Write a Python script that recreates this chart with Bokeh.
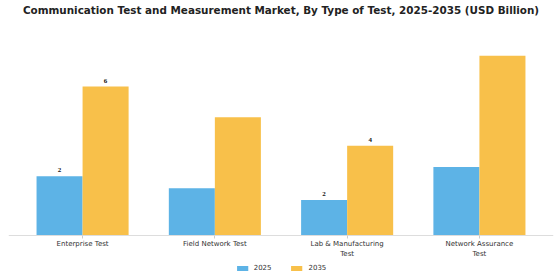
from bokeh.plotting import figure
from bokeh.models import ColumnDataSource, FactorRange, Range1d, LabelSet, Legend, LegendItem
from bokeh.transform import dodge
from bokeh.embed import file_html
from bokeh.resources import INLINE

categories = ["Enterprise Test", "Field Network Test", "Lab & Manufacturing\nTest", "Network Assurance\nTest"]
v2025 = [2.5, 2.0, 1.5, 2.9]
v2035 = [6.3, 5.0, 3.8, 7.6]
labelled = [True, False, True, False]

BLUE = "#5DB3E6"
ORANGE = "#F8C04A"

src = ColumnDataSource(dict(cat=categories, a=v2025, b=v2035))

lab_a = dict(cat=[], y=[], t=[])
lab_b = dict(cat=[], y=[], t=[])
for c, a, b, s in zip(categories, v2025, v2035, labelled):
    if s:
        lab_a["cat"].append(c); lab_a["y"].append(a); lab_a["t"].append(str(round(a)))
        lab_b["cat"].append(c); lab_b["y"].append(b); lab_b["t"].append(str(round(b)))

p = figure(width=560, height=280, x_range=FactorRange(*categories, range_padding=0.03),
           y_range=Range1d(-1.903, 9.26), output_backend="svg", toolbar_location=None,
           title="Communication Test and Measurement Market, By Type of Test, 2025-2035 (USD Billion)")
p.title.align = "center"
p.title.text_font = "DejaVu Sans"
p.title.text_font_size = "10.4px"
p.title.text_font_style = "bold"
p.title.text_color = "#222222"
p.title.standoff = 2

w = 0.348
r1 = p.vbar(x=dodge("cat", -w / 2, range=p.x_range), top="a", width=w, source=src,
            fill_color=BLUE, line_color=None)
r2 = p.vbar(x=dodge("cat", w / 2, range=p.x_range), top="b", width=w, source=src,
            fill_color=ORANGE, line_color=None)

for d, off in ((lab_a, -w / 2), (lab_b, w / 2)):
    ls = LabelSet(x=dodge("cat", off, range=p.x_range), y="y", text="t",
                  source=ColumnDataSource(d), text_align="center", text_baseline="bottom",
                  y_offset=4, text_font="DejaVu Sans", text_font_size="7px",
                  text_font_style="bold", text_color="#111111")
    p.add_layout(ls)

p.yaxis.visible = False
p.xgrid.grid_line_color = None
p.ygrid.grid_line_color = None
p.outline_line_color = None
p.xaxis.fixed_location = 0
p.xaxis.axis_line_color = "#DDDDDD"
p.xaxis.major_tick_line_color = "#CCCCCC"
p.xaxis.major_tick_in = 0
p.xaxis.major_tick_out = 3
p.xaxis.major_label_text_font = "DejaVu Sans"
p.xaxis.major_label_text_font_size = "7px"
p.xaxis.major_label_text_color = "#333333"
p.xaxis.major_label_standoff = 2

legend = Legend(items=[LegendItem(label="2025", renderers=[r1]), LegendItem(label="2035", renderers=[r2])],
                orientation="horizontal", location="bottom_center")
legend.label_text_font = "DejaVu Sans"
legend.label_text_font_size = "7px"
legend.label_text_color = "#333333"
legend.glyph_width = 14
legend.glyph_height = 6
legend.label_height = 8
legend.label_width = 10
legend.spacing = 18
legend.label_standoff = 5
legend.border_line_color = None
legend.background_fill_alpha = 0
legend.padding = 2
legend.margin = 8
p.add_layout(legend, "center")

p.min_border_left = 8
p.min_border_right = 7
p.min_border_top = 0
p.min_border_bottom = 0

open("out.html", "w").write(file_html(p, INLINE))
